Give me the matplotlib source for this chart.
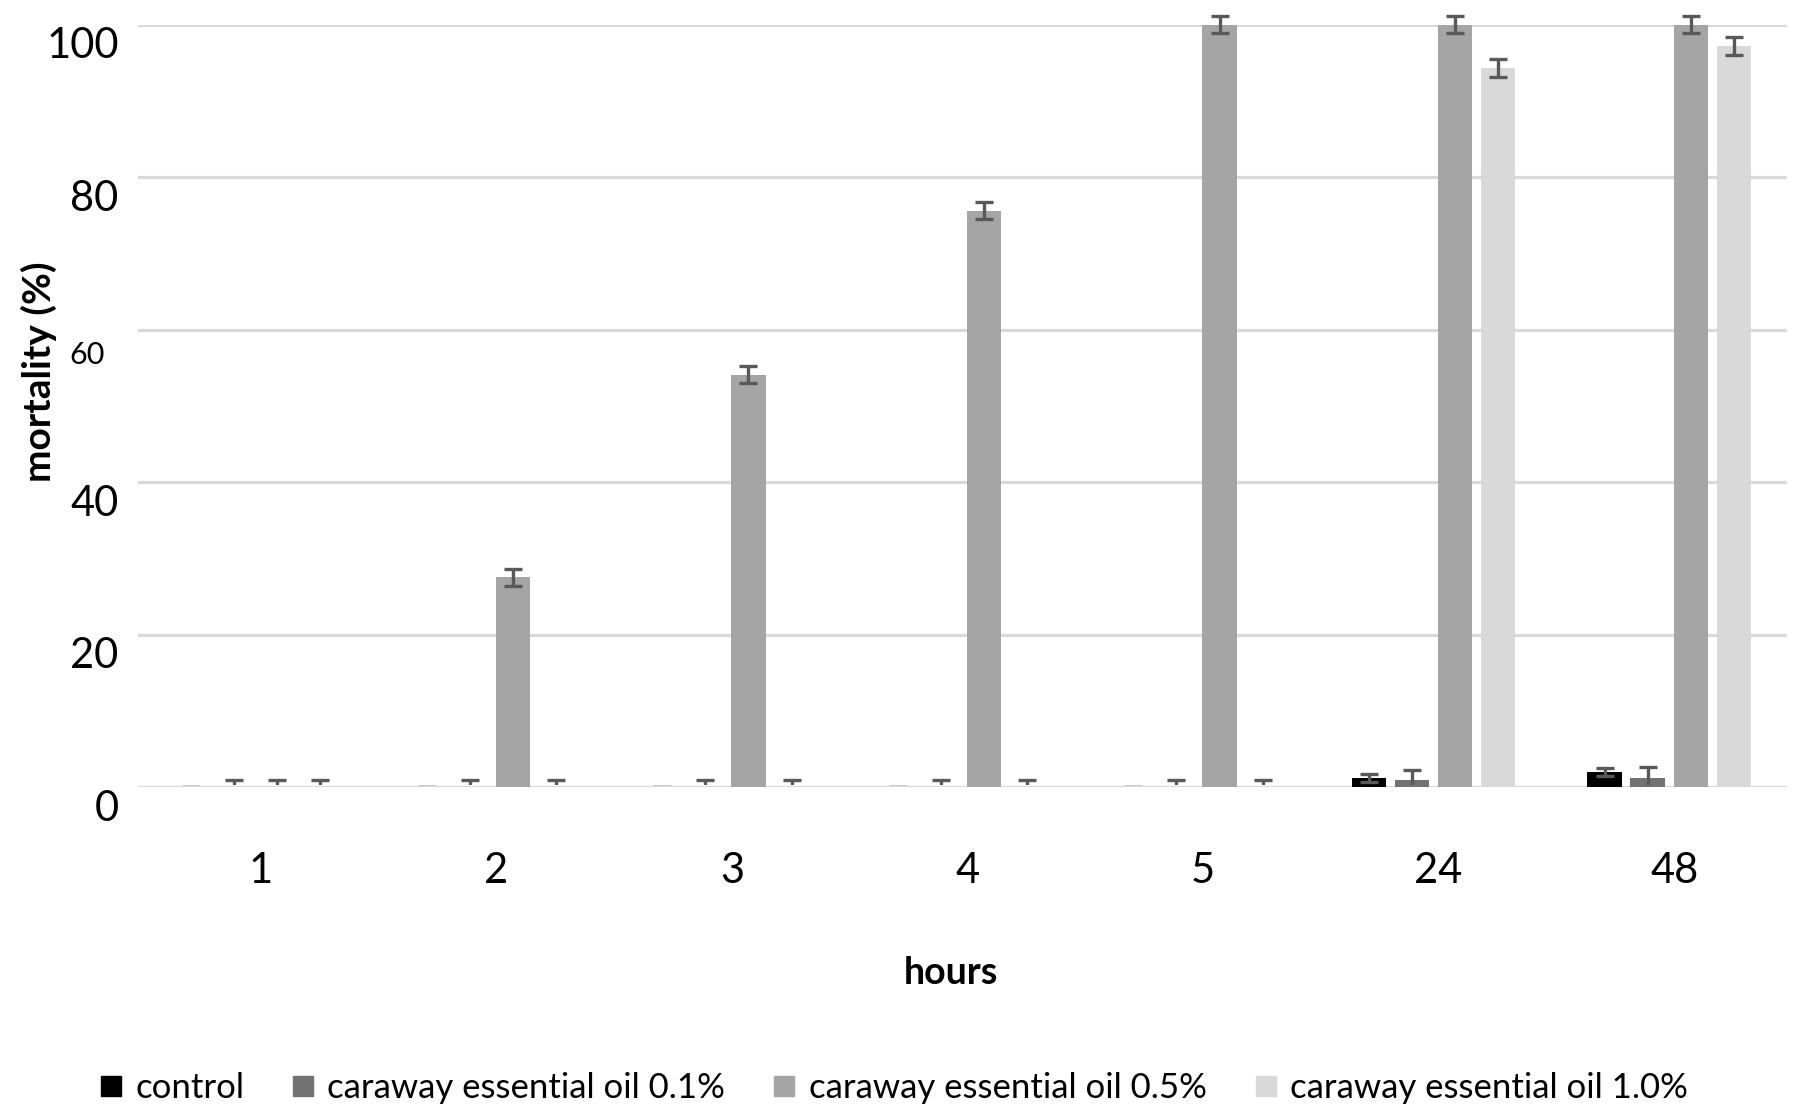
import matplotlib.pyplot as plt
import numpy as np
from matplotlib.lines import Line2D
from matplotlib.patches import Rectangle
from matplotlib.transforms import ScaledTranslation

plt.rcParams['font.family'] = ['Lato', 'DejaVu Sans']

hours = ['1', '2', '3', '4', '5', '24', '48']
series = ['control', 'caraway essential oil 0.1%',
          'caraway essential oil 0.5%', 'caraway essential oil 1.0%']
control = [0, 0, 0, 0, 0, 1.2, 2.0]
oil_01 = [0, 0, 0, 0, 0, 0.9, 1.2]
oil_05 = [0, 27.5, 54.1, 75.6, 100, 100, 100]
oil_10 = [0, 0, 0, 0, 0, 94.3, 97.2]
err_control = [0, 0, 0, 0, 0, 0.5, 0.5]
err_01 = [0.9, 0.9, 0.9, 0.9, 0.9, 1.3, 1.4]
err_05 = [0.9, 1.1, 1.1, 1.1, 1.1, 1.1, 1.1]
err_10 = [0.9, 0.9, 0.9, 0.9, 0.9, 1.2, 1.2]
colors = ['#000000', '#767171', '#A5A5A5', '#D9D9D9']

fig = plt.figure(figsize=(17.99, 11.17), dpi=100)
ax = fig.add_axes([0.0767, 0.2954, 0.9166, 0.6825])

x = np.arange(len(hours))
width = 0.146
step = 0.183
values = [control, oil_01, oil_05, oil_10]
errors = [err_control, err_01, err_05, err_10]

# error bars may poke above 100 but not below the zero line
clip = Rectangle((-0.5, 0.3), len(hours), 110, transform=ax.transData)
for i in range(4):
    bars = ax.bar(x + (i - 1.5) * step, values[i], width, color=colors[i], zorder=2,
                  linewidth=0,
                  yerr=errors[i], capsize=6.7,
                  error_kw=dict(ecolor='#595959', elinewidth=2.4, capthick=2.4,
                                zorder=3))
    line, caps, cols = bars.errorbar.lines
    for art in list(caps) + list(cols):
        art.set_clip_path(clip)

ax.set_xlim(-0.5, len(hours) - 0.5)
ax.set_ylim(0, 100)
ax.set_yticks([0, 20, 40, 60, 80, 100])
ax.set_xticks(x)
ax.set_xticklabels(hours)
ax.yaxis.grid(True, color='#D9D9D9', linewidth=2.3, zorder=0)
ax.set_axisbelow(True)
for s in ax.spines.values():
    s.set_visible(False)
ax.tick_params(axis='both', length=0, labelsize=30, colors='#000000')
ax.tick_params(axis='x', pad=47)
ax.tick_params(axis='y', pad=14)

# Excel puts y labels a bit below their gridlines
down = ScaledTranslation(0, -0.18, fig.dpi_scale_trans)
for lab in ax.get_yticklabels():
    lab.set_transform(lab.get_transform() + down)
    if lab.get_text() == '60':
        lab.set_fontsize(22)
        lab.set_transform(lab.get_transform()
                          + ScaledTranslation(-0.14, -0.05, fig.dpi_scale_trans))
        lab.set_bbox(dict(facecolor='white', edgecolor='none', pad=1))
right = ScaledTranslation(0.05, 0, fig.dpi_scale_trans)
for lab in ax.get_xticklabels():
    lab.set_transform(lab.get_transform() + right)

ax.set_xlabel('hours', fontsize=27, fontweight='bold')
ax.xaxis.set_label_coords((951 - 138) / 1649, (787 - 973) / 762)
ax.xaxis.label.set_va('center')

ylab = fig.text(57 / 1799, 1 - 372 / 1117, 'mortality (%)', rotation=90,
                ha='right', va='center', fontsize=28, fontweight='bold')
ylab.set_zorder(0)
ax.set_zorder(1)

handles = [Line2D([], [], marker='s', linestyle='none', markersize=14,
                  markerfacecolor=c, markeredgecolor=c) for c in colors]
fig.legend(handles, series, loc='center', bbox_to_anchor=(0.496, 1 - 1088 / 1117),
           ncol=4, frameon=False, fontsize=25, handlelength=0.8,
           handletextpad=0.3, columnspacing=1.3, borderpad=0)

fig.savefig('out.png', dpi=100)
